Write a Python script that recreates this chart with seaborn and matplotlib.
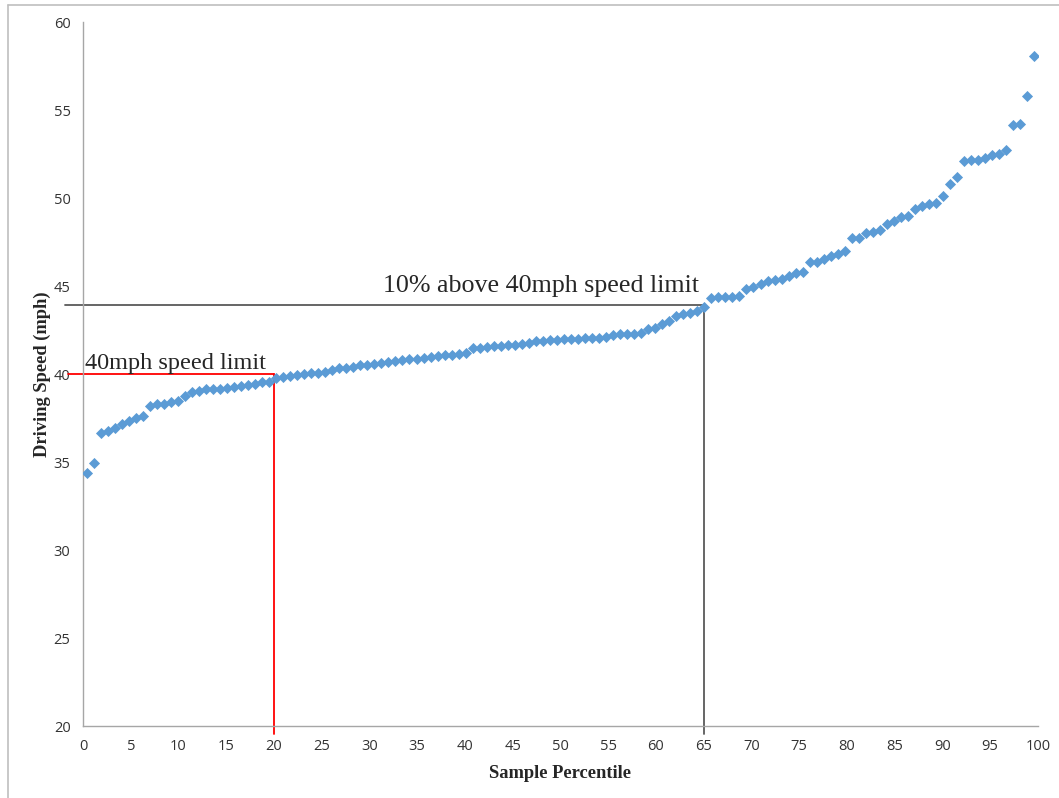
import numpy as np
import pandas as pd
import seaborn as sns
import matplotlib.pyplot as plt
from matplotlib.lines import Line2D

# sorted driving speeds (mph), one per sample
speeds = [34.40, 34.95, 36.63, 36.76, 36.92, 37.16, 37.31, 37.50, 37.63, 38.20,
          38.30, 38.30, 38.43, 38.46, 38.77, 38.99, 39.03, 39.15, 39.17, 39.17,
          39.19, 39.26, 39.32, 39.39, 39.43, 39.53, 39.55, 39.79, 39.85, 39.89,
          39.92, 39.98, 40.08, 40.06, 40.11, 40.23, 40.32, 40.32, 40.42, 40.49,
          40.51, 40.55, 40.64, 40.70, 40.76, 40.81, 40.85, 40.87, 40.91, 40.95,
          41.02, 41.08, 41.10, 41.14, 41.19, 41.46, 41.49, 41.53, 41.59, 41.58,
          41.63, 41.65, 41.70, 41.78, 41.89, 41.89, 41.93, 41.93, 41.97, 41.97,
          42.01, 42.03, 42.05, 42.07, 42.12, 42.22, 42.26, 42.26, 42.27, 42.31,
          42.54, 42.63, 42.82, 43.03, 43.30, 43.39, 43.45, 43.60, 43.82, 44.34,
          44.35, 44.35, 44.38, 44.43, 44.85, 44.92, 45.10, 45.30, 45.36, 45.40,
          45.59, 45.76, 45.81, 46.36, 46.36, 46.51, 46.72, 46.84, 46.99, 47.74,
          47.74, 48.03, 48.09, 48.16, 48.54, 48.70, 48.90, 48.99, 49.38, 49.56,
          49.64, 49.72, 50.13, 50.80, 51.19, 52.12, 52.14, 52.14, 52.30, 52.44,
          52.50, 52.73, 54.17, 54.20, 55.78, 58.09]

n = len(speeds)
percentile = [(i + 0.5) / n * 100 for i in range(n)]

limit_pct = 20
limit_speed = 40
over_pct = 65
over_speed = 43.9

x_ticks = list(range(0, 101, 5))
y_ticks = list(range(20, 61, 5))

df = pd.DataFrame({"pct": percentile, "speed": speeds})

sns.set_style("white")

fig = plt.figure(figsize=(10.59, 7.98), dpi=100)
ax = fig.add_axes([0.0784, 0.0902, 0.9016, 0.8822])

sns.scatterplot(data=df, x="pct", y="speed", marker="D", s=32,
                color="#5B9BD5", linewidth=0, ax=ax, zorder=3)

ax.set_xlim(0, 100)
ax.set_ylim(20, 60)
ax.set_xticks(x_ticks)
ax.set_yticks(y_ticks)

grey = "#A6A6A6"
for side in ["top", "right"]:
    ax.spines[side].set_visible(False)
for side in ["left", "bottom"]:
    ax.spines[side].set_color(grey)
    ax.spines[side].set_linewidth(1.0)
ax.tick_params(axis="both", direction="out", length=5, width=1, color=grey,
               labelsize=10.5, labelcolor="#333333", pad=4)
for lab in ax.get_xticklabels() + ax.get_yticklabels():
    lab.set_family("Open Sans")

ax.set_xlabel("Sample Percentile", fontfamily="Liberation Serif",
              fontweight="bold", fontsize=13.3, labelpad=8)
ax.set_ylabel("Driving Speed (mph)", fontfamily="Liberation Serif",
              fontweight="bold", fontsize=13.3, labelpad=2)

# speed limit guide lines
ax.plot([-1.6, limit_pct], [limit_speed, limit_speed], color="#FF0000",
        lw=1.3, clip_on=False, zorder=2)
ax.plot([limit_pct, limit_pct], [limit_speed, 19.55], color="#FF0000",
        lw=1.3, clip_on=False, zorder=2)
ax.plot([-1.9, over_pct], [over_speed, over_speed], color="#595959",
        lw=1.3, clip_on=False, zorder=2)
ax.plot([over_pct, over_pct], [over_speed, 19.55], color="#595959",
        lw=1.3, clip_on=False, zorder=2)

ax.text(0.2, 40.28, "40mph speed limit", fontfamily="Liberation Serif",
        fontsize=17.5, ha="left", va="baseline")
ax.text(31.4, 44.66, "10% above 40mph speed limit", fontfamily="Liberation Serif",
        fontsize=18.7, ha="left", va="baseline")

# outer chart frame (left and top edges visible)
fig.add_artist(Line2D([8 / 1059, 8 / 1059], [0, 1 - 5 / 798],
                      transform=fig.transFigure, color="#BFBFBF", lw=1.2))
fig.add_artist(Line2D([8 / 1059, 1], [1 - 5 / 798, 1 - 5 / 798],
                      transform=fig.transFigure, color="#BFBFBF", lw=1.2))

fig.savefig("out.png", dpi=100)
